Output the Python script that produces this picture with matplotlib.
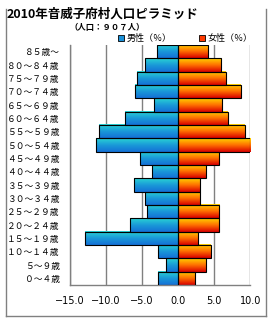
import numpy as np
import matplotlib
matplotlib.use('Agg')
import matplotlib.pyplot as plt
from matplotlib.colors import LinearSegmentedColormap
from matplotlib.patches import Rectangle
from matplotlib.lines import Line2D

plt.rcParams['font.family'] = ['Noto Sans CJK JP', 'DejaVu Sans']

# age groups, bottom to top
ages = ['０～４歳', '５～９歳', '１０～１４歳', '１５～１９歳', '２０～２４歳', '２５～２９歳',
        '３０～３４歳', '３５～３９歳', '４０～４４歳', '４５～４９歳', '５０～５４歳', '５５～５９歳',
        '６０～６４歳', '６５～６９歳', '７０～７４歳', '７５～７９歳', '８０～８４歳', '８５歳～']
male = [2.7, 1.7, 2.7, 12.9, 6.7, 4.35, 4.6, 6.05, 3.65, 5.2, 11.3, 10.9,
        7.3, 3.3, 5.9, 5.6, 4.6, 2.9]
female = [2.4, 3.9, 4.5, 2.8, 5.7, 5.7, 3.1, 3.1, 3.9, 5.7, 10.0, 9.2,
          6.85, 6.15, 8.65, 6.6, 6.0, 4.2]
xticks = [-15, -10, -5, 0, 5, 10]

W, H = 270, 320
fig = plt.figure(figsize=(W / 100, H / 100), dpi=100)


def fx(px):
    return px / W


def fy(py):
    return 1 - py / H


ax = fig.add_axes([fx(69.5), fy(285), fx(250.3) - fx(69.5), fy(45) - fy(285)])

male_cmap = LinearSegmentedColormap.from_list('m', ['#1470d6', '#1a9ad8', '#2ad4d4'])
female_cmap = LinearSegmentedColormap.from_list('f', ['#d80000', '#ff7000', '#ffd400'])
grad = np.linspace(0, 1, 64).reshape(-1, 1)

for i in range(len(ages)):
    y0, y1 = i - 0.5, i + 0.5
    ax.imshow(grad, cmap=male_cmap, origin='lower', aspect='auto',
              extent=[-male[i], 0, y0, y1], interpolation='bilinear', zorder=2)
    ax.add_patch(Rectangle((-male[i], y0), male[i], 1, fill=False,
                           edgecolor='black', lw=0.8, zorder=3))
    ax.imshow(grad, cmap=female_cmap, origin='lower', aspect='auto',
              extent=[0, female[i], y0, y1], interpolation='bilinear', zorder=2)
    ax.add_patch(Rectangle((0, y0), female[i], 1, fill=False,
                           edgecolor='black', lw=0.8, zorder=3))

ax.set_xlim(-15, 10)
ax.set_ylim(-0.5, len(ages) - 0.5)
ax.set_xticks(xticks)
ax.set_xticklabels(['\u2212%.1f' % abs(v) if v < 0 else '%.1f' % v for v in xticks],
                   fontsize=7, family=['DejaVu Sans'])
ax.set_yticks(range(len(ages)))
ax.set_yticklabels(ages, fontsize=6.3)
ax.tick_params(axis='both', length=0)
ax.tick_params(axis='x', pad=8)
ax.tick_params(axis='y', pad=7)
ax.grid(axis='x', color='#808080', lw=1, zorder=1)
ax.set_axisbelow(True)
for s in ['top', 'right']:
    ax.spines[s].set_visible(False)
for s in ['left', 'bottom']:
    ax.spines[s].set_color('#808080')
    ax.spines[s].set_linewidth(1)

# titles
fig.text(fx(7), fy(14), '2010年音威子府村人口ピラミッド', fontsize=9, fontweight='bold',
         ha='left', va='center')
fig.text(fx(107), fy(27.5), '（人口：９０７人）', fontsize=6, fontweight='bold',
         ha='center', va='center')

# legend
fig.patches.append(Rectangle((fx(117.5), fy(41)), fx(6), fy(35) - fy(41), transform=fig.transFigure,
                             facecolor='#1a90d8', edgecolor='black', lw=0.6))
fig.text(fx(127), fy(38), '男性（％）', fontsize=6.5, ha='left', va='center')
fig.patches.append(Rectangle((fx(198.5), fy(41)), fx(6), fy(35) - fy(41), transform=fig.transFigure,
                             facecolor='#ff3a00', edgecolor='black', lw=0.6))
fig.text(fx(208), fy(38), '女性（％）', fontsize=6.5, ha='left', va='center')

# outer frame (no top edge)
frame = dict(color='#808080', lw=1, transform=fig.transFigure)
fig.lines.append(Line2D([fx(5.5), fx(5.5)], [fy(9), fy(315.5)], **frame))
fig.lines.append(Line2D([fx(5.5), fx(265.5)], [fy(315.5), fy(315.5)], **frame))
fig.lines.append(Line2D([fx(265.5), fx(265.5)], [fy(9), fy(315.5)], **frame))

fig.savefig('out.png', dpi=100)
